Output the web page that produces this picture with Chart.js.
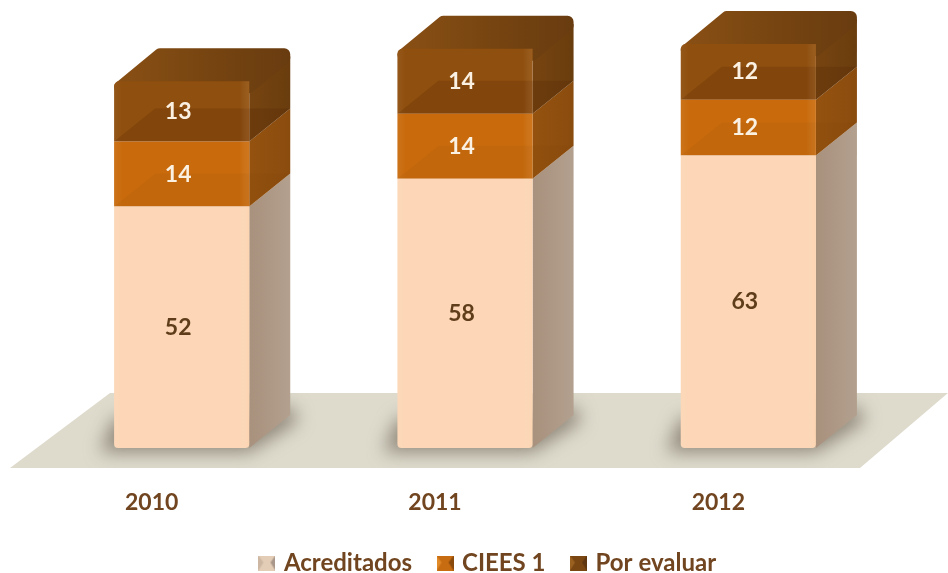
<!DOCTYPE html>
<html><head><meta charset="utf-8">
<style>html,body{margin:0;padding:0;background:#fff}#w{width:948px;height:573px;position:relative}</style>
<script src="https://cdn.jsdelivr.net/npm/chart.js@4"></script>
</head><body><div id="w"><canvas id="c" width="948" height="573"></canvas></div>
<script>
const years = ['2010','2011','2012'];
const acreditados = [52,58,63];
const ciees1 = [14,14,12];
const porEvaluar = [13,14,12];

const DX = 41, DY = 33;
const textCol = '#70451f';
const FONT = 'Lato';

function poly(ctx, pts){ctx.beginPath();pts.forEach((p,i)=>i?ctx.lineTo(p[0],p[1]):ctx.moveTo(p[0],p[1]));ctx.closePath();}
function icon(c1,c2,c3){
  const s=document.createElement('canvas');s.width=17;s.height=15;const x=s.getContext('2d');
  x.fillStyle=c1;x.fillRect(0,0,17,15);
  x.fillStyle=c2;x.beginPath();x.moveTo(0,0);x.lineTo(5,7);x.lineTo(0,15);x.fill();
  x.fillStyle=c3;x.beginPath();x.moveTo(17,0);x.lineTo(12,7);x.lineTo(17,15);x.fill();
  return s;
}
const sideCols = [['#a8917d','#b3a08e'],['#95520f','#8a4c0e'],['#764410','#6a3d0e']];
const frontCols = ['#fcd6b6','#c96b0d','#8f4f0e'];

const depth = {
  id:'depth',
  afterLayout(ch){ const l=ch.legend; l.top+=12; l.bottom+=12; l.left+=24; l.right+=24; },
  beforeDatasetsDraw(ch){
    const ctx=ch.ctx, a=ch.chartArea;
    const fb=468, ft=393, fl=a.left-30, fr=a.right-30;
    ctx.save();
    poly(ctx,[[fl,fb],[fl+100,ft],[948,ft],[fr,fb]]);
    ctx.fillStyle='#dedbcd';ctx.fill();
    ctx.clip();
    ctx.filter='blur(9px)';
    ch.getDatasetMeta(0).data.forEach(b=>{
      const l=b.x-b.width/2,r=b.x+b.width/2,y=b.base;
      ctx.fillStyle='rgba(110,100,85,.7)';
      poly(ctx,[[l-14,y+4],[r,y+4],[r+DX+8,y-DY+6],[r+DX,y-DY-10],[r,y-30],[l,y-30]]);ctx.fill();
    });
    ctx.restore();
    ch.data.datasets.forEach((ds,i)=>{
      ch.getDatasetMeta(i).data.forEach(b=>{
        const r=b.x+b.width/2,t=b.y,bt=b.base;
        const g=ctx.createLinearGradient(r,0,r+DX,0);
        g.addColorStop(0,sideCols[i][0]);g.addColorStop(1,sideCols[i][1]);
        ctx.fillStyle=g;
        const c=i===2?8:0;
        poly(ctx,[[r,t+c],[r+DX,t-DY+c],[r+DX,bt-DY],[r,bt]]);ctx.fill();
        if(i===2){
          const l=b.x-b.width/2;
          const g2=ctx.createLinearGradient(l,0,r+DX,0);
          g2.addColorStop(0,'#8a5015');g2.addColorStop(.6,'#744310');g2.addColorStop(1,'#693c10');
          ctx.save();
          ctx.fillStyle=g2;ctx.strokeStyle=g2;ctx.lineWidth=12;ctx.lineJoin='round';
          poly(ctx,[[l+6,t+6],[l+DX+5,t-DY+6],[r+DX-6,t-DY+6],[r+DX-6,t-DY+10],[r,t+6]]);
          ctx.stroke();ctx.fill();
          ctx.restore();
        }
      });
    });
  },
  afterDatasetsDraw(ch){
    const ctx=ch.ctx;
    ch.data.datasets.forEach((ds,i)=>{
      ch.getDatasetMeta(i).data.forEach(b=>{
        const l=b.x-b.width/2,r=b.x+b.width/2,t=b.y;
        const g=ctx.createLinearGradient(l,0,r,0);
        g.addColorStop(0,'rgba(255,255,255,.05)');g.addColorStop(.06,'rgba(255,255,255,0)');
        g.addColorStop(.93,'rgba(255,255,255,0)');g.addColorStop(1,'rgba(255,200,140,.12)');
        ctx.fillStyle=g;ctx.fillRect(l,t,b.width,b.base-t);
        if(i<2){
          ctx.fillStyle=i===0?'rgba(120,60,0,.07)':'rgba(70,25,0,.18)';
          poly(ctx,[[l,t],[l+DX,t-DY],[r+DX,t-DY],[r,t]]);ctx.fill();
        }
      });
    });
    ctx.save();
    ctx.font='bold 23px '+FONT;ctx.textAlign='center';ctx.textBaseline='middle';
    ch.data.datasets.forEach((ds,i)=>{
      ch.getDatasetMeta(i).data.forEach((b,j)=>{
        ctx.fillStyle=i===0?'#5f3d1a':'#fbf1e2';
        ctx.fillText(String(ds.data[j]),b.x-3.5,(b.y+b.base)/2);
      });
    });
    ctx.restore();
  }
};

new Chart(document.getElementById('c'),{
  type:'bar',
  data:{labels:years,datasets:[
    {label:'Acreditados',data:acreditados,backgroundColor:frontCols[0],borderRadius:{bottomLeft:4,bottomRight:4,topLeft:0,topRight:0},borderSkipped:false,pointStyle:icon('#e4cdb6','#cdb7a3','#a8978a')},
    {label:'CIEES 1',data:ciees1,backgroundColor:frontCols[1],pointStyle:icon('#c86c12','#e08a2a','#8a4a0c')},
    {label:'Por evaluar',data:porEvaluar,backgroundColor:frontCols[2],borderRadius:{topLeft:5,topRight:0,bottomLeft:0,bottomRight:0},borderSkipped:false,pointStyle:icon('#7a4612','#9a6020','#5e3610')}
  ]},
  options:{
    responsive:false,animation:false,
    layout:{padding:{left:40,right:58,top:0,bottom:0}},
    datasets:{bar:{categoryPercentage:1,barPercentage:.477}},
    scales:{
      x:{stacked:true,border:{display:false},grid:{display:false,drawTicks:false},
         afterFit(s){s.height=63;},
         ticks:{padding:41,labelOffset:-30,maxRotation:0,color:textCol,font:{family:FONT,size:23,weight:'bold'}}},
      y:{stacked:true,display:false,min:0,max:96.5}
    },
    plugins:{
      tooltip:{enabled:false},
      legend:{position:'bottom',labels:{usePointStyle:true,pointStyleWidth:10,padding:28,color:textCol,font:{family:FONT,size:24,weight:'bold'}}}
    }
  },
  plugins:[depth]
});
</script></body></html>
